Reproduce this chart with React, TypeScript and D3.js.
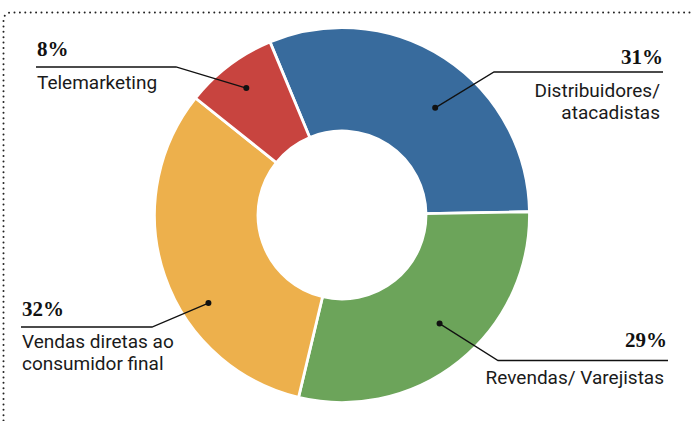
import React, { useEffect, useRef } from "react";
import * as d3 from "d3";

const categories = ["Distribuidores/ atacadistas", "Revendas/ Varejistas", "Vendas diretas ao consumidor final", "Telemarketing"];
const values = [31, 29, 32, 8];
const pctLabels = ["31%", "29%", "32%", "8%"];
const nameLines = [["Distribuidores/", "atacadistas"], ["Revendas/ Varejistas"], ["Vendas diretas ao", "consumidor final"], ["Telemarketing"]];
const colors = ["#386b9d", "#6ca45a", "#edb04c", "#c8443f"];

// label layout (styling)
const layout = [
  { anchor: "end", x: 663, pctY: 64, lineY: 72, lineX0: 663, lineX1: 494, nameY: 97, dotFrac: 0.57, dotR: 142 },
  { anchor: "end", x: 667, pctY: 347, lineY: 360.5, lineX0: 668, lineX1: 498, nameY: 384, dotFrac: 0.47, dotR: 146 },
  { anchor: "start", x: 22, pctY: 316, lineY: 327, lineX0: 21, lineX1: 152, nameY: 348, dotFrac: 0.375, dotR: 160 },
  { anchor: "start", x: 37, pctY: 56, lineY: 67, lineX0: 36, lineX1: 176, nameY: 89, dotFrac: 0.5, dotR: 159 },
];

const W = 692, H = 421;
const cx = 342, cy = 215;
const outerR = 187.5, innerR = 84;

export default function App() {
  const ref = useRef<SVGSVGElement>(null);
  useEffect(() => {
    const svg = d3.select(ref.current);
    svg.selectAll("*").remove();
    // dotted frame
    svg.append("path")
      .attr("d", `M3.5,${H + 5} L3.5,21 Q3.5,12.5 12,12.5 L${W + 5},12.5`)
      .attr("fill", "none").attr("stroke", "#222").attr("stroke-width", 2)
      .attr("stroke-linecap", "round").attr("stroke-dasharray", "0 5.4");

    const start = -22.6 * Math.PI / 180;
    const pie = d3.pie<number>().sort(null).startAngle(start).endAngle(start + 2 * Math.PI);
    const arcs = pie(values);
    const arc = d3.arc<d3.PieArcDatum<number>>().innerRadius(innerR).outerRadius(outerR);
    const g = svg.append("g").attr("transform", `translate(${cx},${cy})`);
    g.selectAll("path").data(arcs).enter().append("path")
      .attr("d", arc as any).attr("fill", (_, i) => colors[i])
      .attr("stroke", "#fff").attr("stroke-width", 2.8).attr("stroke-linejoin", "round");

    arcs.forEach((a, i) => {
      const L = layout[i];
      const ang = a.startAngle + L.dotFrac * (a.endAngle - a.startAngle);
      const dx = cx + L.dotR * Math.sin(ang);
      const dy = cy - L.dotR * Math.cos(ang);
      svg.append("path")
        .attr("d", `M${L.lineX0},${L.lineY} L${L.lineX1},${L.lineY} L${dx},${dy}`)
        .attr("fill", "none").attr("stroke", "#111").attr("stroke-width", 1.3);
      svg.append("circle").attr("cx", dx).attr("cy", dy).attr("r", 3).attr("fill", "#111");
      svg.append("text").attr("x", L.x).attr("y", L.pctY).attr("text-anchor", L.anchor)
        .attr("font-family", "'Liberation Serif', serif").attr("font-weight", "bold")
        .attr("font-size", 21).attr("fill", "#111").text(pctLabels[i]);
      nameLines[i].forEach((t, j) => {
        svg.append("text").attr("x", L.anchor === "end" ? L.x - 3 : L.x).attr("y", L.nameY + j * 22)
          .attr("text-anchor", L.anchor)
          .attr("font-family", "'Roboto', sans-serif")
          .attr("font-size", 19).attr("fill", "#1a1a1a").text(t);
      });
    });
  }, []);
  return (
    <svg ref={ref} width={W} height={H} style={{ position: "absolute", left: 0, top: 0, background: "#fff" }} />
  );
}
